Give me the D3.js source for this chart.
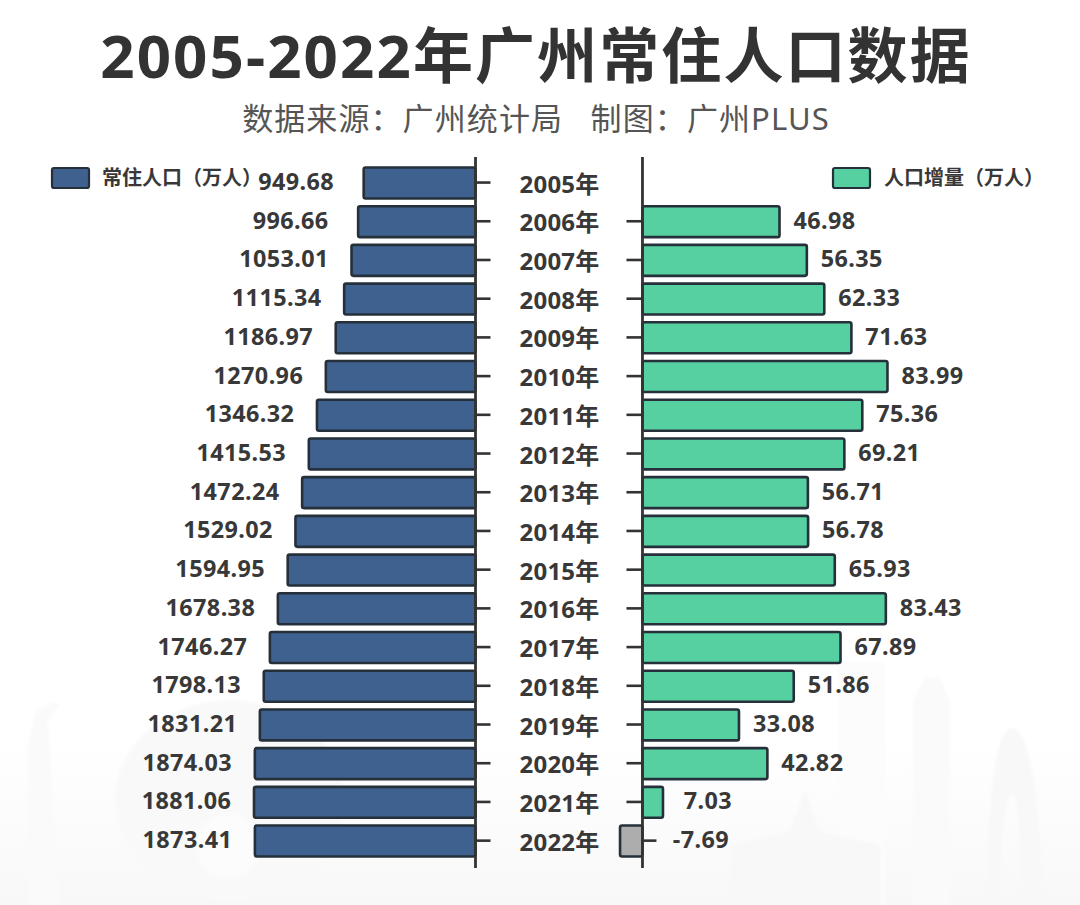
<!DOCTYPE html>
<html><head><meta charset="utf-8">
<script src="https://cdn.jsdelivr.net/npm/d3@7"></script>
<style>html,body{margin:0;padding:0;background:#fff}svg{display:block}
text{font-family:"Noto Sans","Noto Sans CJK SC",sans-serif}</style></head>
<body><svg id="c" width="1080" height="905"></svg>
<script>
const years=["2005年","2006年","2007年","2008年","2009年","2010年","2011年","2012年","2013年","2014年","2015年","2016年","2017年","2018年","2019年","2020年","2021年","2022年"];
const population=[949.68,996.66,1053.01,1115.34,1186.97,1270.96,1346.32,1415.53,1472.24,1529.02,1594.95,1678.38,1746.27,1798.13,1831.21,1874.03,1881.06,1873.41];
const growth=[null,46.98,56.35,62.33,71.63,83.99,75.36,69.21,56.71,56.78,65.93,83.43,67.89,51.86,33.08,42.82,7.03,-7.69];
const titleText="2005-2022年广州常住人口数据";
const subtitleText="数据来源：广州统计局   制图：广州PLUS";
const legendLeft="常住人口（万人）";
const legendRight="人口增量（万人）";
const dark="#333",edge="#25303a",blue="#3f6190",green="#56d0a0",gray="#adadad",ink="#383838";

const svg=d3.select("#c");
const defs=svg.append("defs");
const g=defs.append("linearGradient").attr("id","fade").attr("x1",0).attr("x2",0).attr("y1",0).attr("y2",1);
g.append("stop").attr("offset",0).attr("stop-color","#f8f8f8").attr("stop-opacity",0);
g.append("stop").attr("offset",1).attr("stop-color","#f8f8f8").attr("stop-opacity",1);
defs.append("filter").attr("id","soft").append("feGaussianBlur").attr("stdDeviation",1.5);
svg.append("rect").attr("y",740).attr("width",1080).attr("height",165).attr("fill","url(#fade)");

// faint skyline backdrop
const sky=svg.append("g").attr("filter","url(#soft)");
sky.append("ellipse").attr("cx",230).attr("cy",800).attr("rx",115).attr("ry",100).attr("fill","#f9f9f9");
sky.append("circle").attr("cx",228).attr("cy",846).attr("r",32).attr("fill","#fcfcfc");
sky.append("path").attr("d","M28 905V745L35 712L52 702L60 705L48 720L52 790L60 905Z").attr("fill","#fafafa");
sky.append("rect").attr("x",838).attr("y",662).attr("width",47).attr("height",243).attr("fill","#fcfcfc");
sky.append("path").attr("d","M913 905V700L925 678H940L950 700V905Z").attr("fill","#fafafa");
sky.append("path").attr("d","M987 905C988 800 995 728 1012 728C1030 728 1040 800 1043 905H1022C1020 820 1018 795 1012 795C1006 795 1002 820 1000 905Z").attr("fill","#f8f8f8");
sky.append("path").attr("d","M730 905V845L790 832L805 790L820 832L880 845V905Z").attr("fill","#f8f8f8");

svg.append("text").attr("x",536).attr("y",78).attr("text-anchor","middle").attr("font-size",60).attr("letter-spacing",2.1).attr("font-weight",700).attr("fill",dark).text(titleText);
svg.append("text").attr("x",536).attr("y",130).attr("text-anchor","middle").attr("font-size",31).attr("letter-spacing",1.1).attr("fill","#555").style("white-space","pre").text(subtitleText);

const y=d3.scaleBand().domain(years).range([163.2,860]).paddingInner(0.2).paddingOuter(0.1);
const xL=d3.scaleLinear().domain([0,2000]).range([475.5,240]);
const xR=d3.scaleLinear().domain([-10,90]).range([613.3,905]);
const axisTop=157,axisBottom=868;

// bars
svg.append("g").selectAll("rect").data(population).join("rect")
 .attr("x",d=>xL(d)).attr("width",d=>xL(0)-xL(d))
 .attr("y",(d,i)=>y(years[i])+0.4).attr("height",y.bandwidth())
 .attr("rx",2).attr("fill",blue).attr("stroke",edge).attr("stroke-width",2.6);
const gv=growth.map((d,i)=>({d,yr:years[i]})).filter(o=>o.d!==null);
svg.append("g").selectAll("rect").data(gv).join("rect")
 .attr("x",o=>Math.min(xR(0),xR(o.d))).attr("width",o=>Math.abs(xR(o.d)-xR(0)))
 .attr("y",o=>y(o.yr)+0.4).attr("height",y.bandwidth())
 .attr("rx",2).attr("fill",o=>o.d<0?gray:green).attr("stroke",edge).attr("stroke-width",2.6);

// axes
function styleAxis(sel){sel.select(".domain").remove();sel.selectAll("text").remove();sel.selectAll("line").attr("stroke",dark).attr("stroke-width",2.6);}
svg.append("g").attr("transform",`translate(${xL(0)},0)`).call(d3.axisRight(y).tickSize(15)).call(styleAxis);
const rightTicks=years.filter((yr,i)=>growth[i]!==null&&growth[i]>=0);
svg.append("g").attr("transform",`translate(${xR(0)},0)`).call(d3.axisLeft(y).tickValues(rightTicks).tickSize(16)).call(styleAxis);
const negTicks=years.filter((yr,i)=>growth[i]!==null&&growth[i]<0);
svg.append("g").attr("transform",`translate(${xR(0)},0)`).call(d3.axisRight(y).tickValues(negTicks).tickSize(14)).call(styleAxis);
[xL(0),xR(0)].forEach(x=>svg.append("line").attr("x1",x).attr("x2",x).attr("y1",axisTop).attr("y2",axisBottom).attr("stroke",dark).attr("stroke-width",2.8));

// labels
const lab=(sel,fs)=>sel.attr("font-size",fs).attr("font-weight",700).attr("fill",ink).attr("text-anchor","middle");
svg.append("g").selectAll("text").data(years).join("text").call(lab,24).attr("letter-spacing",0.2)
 .attr("x",559.5).attr("y",d=>y(d)+y.bandwidth()/2+10).text(d=>d);
svg.append("g").selectAll("text").data(population).join("text").call(lab,23.4).attr("letter-spacing",0.4)
 .attr("x",d=>xL(d)-67.5).attr("y",(d,i)=>y(years[i])+y.bandwidth()/2+7.5).text(d=>d.toFixed(2));
svg.append("g").selectAll("text").data(gv).join("text").call(lab,23.4).attr("letter-spacing",0.4)
 .attr("x",o=>o.d<0?xR(0)+58.5:xR(o.d)+45).attr("y",o=>y(o.yr)+y.bandwidth()/2+7.5).text(o=>o.d.toFixed(2));

// legends
[[52,102,blue,legendLeft],[833,884,green,legendRight]].forEach(([rx,tx,f,t])=>{
 svg.append("rect").attr("x",rx).attr("y",168).attr("width",37).attr("height",20).attr("rx",2).attr("fill",f).attr("stroke",edge).attr("stroke-width",2.2);
 svg.append("text").attr("x",tx).attr("y",185).attr("font-size",20).attr("font-weight",700).attr("fill",ink).text(t);
});
</script></body></html>
